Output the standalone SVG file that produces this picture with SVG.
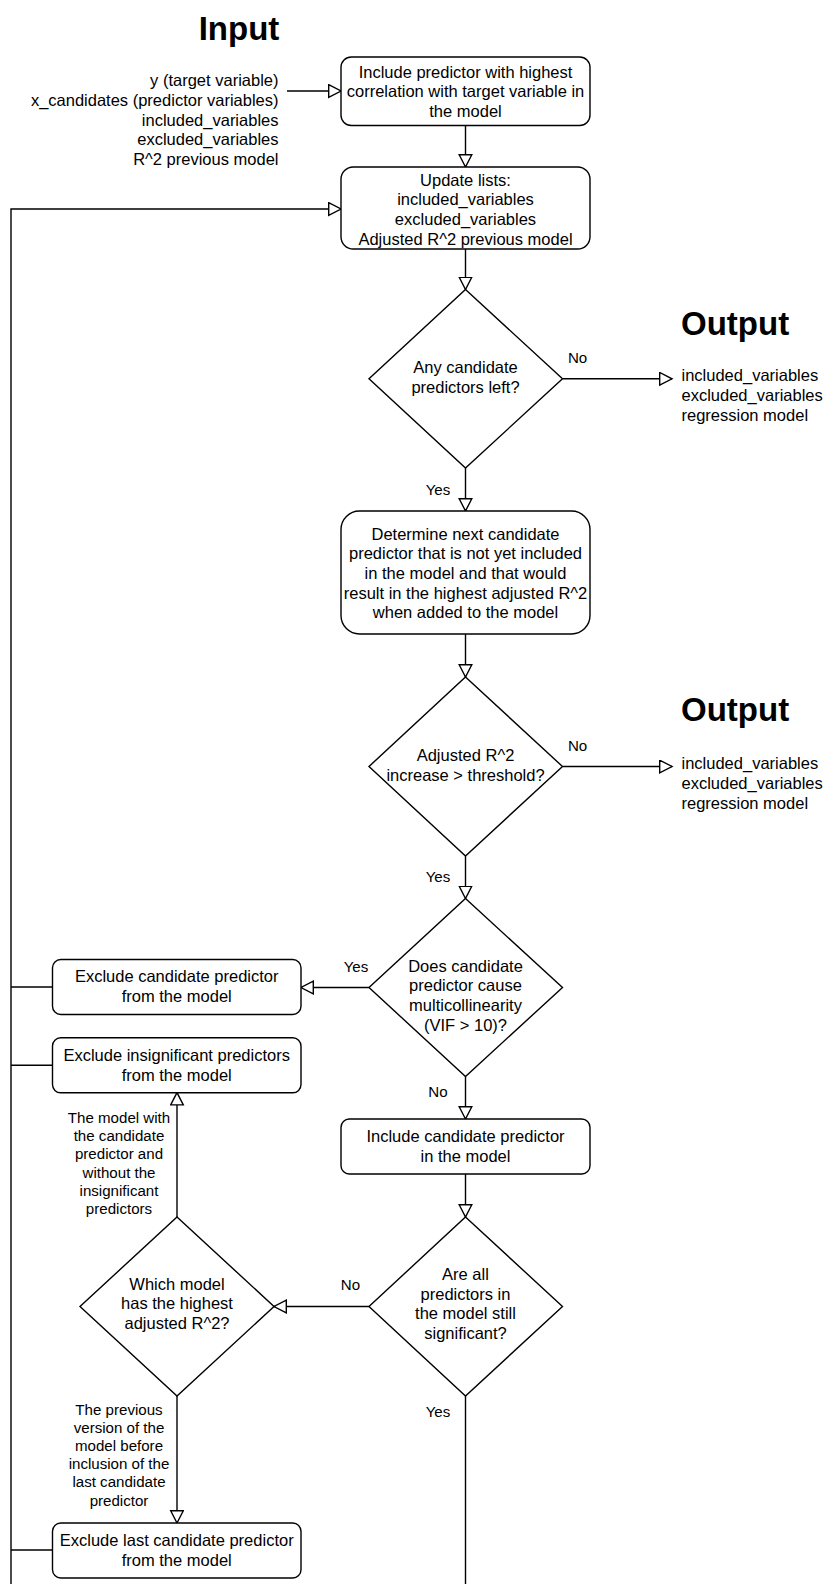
<svg xmlns="http://www.w3.org/2000/svg" width="825" height="1584" viewBox="0 0 825 1584">
  <defs>
    <marker id="open-arrow" markerUnits="userSpaceOnUse" markerWidth="16" markerHeight="16" refX="13" refY="7" orient="auto">
      <path d="M0.7,0.7 L13,7 L0.7,13.3 Z" fill="#ffffff" stroke="#000000" stroke-width="1.4"/>
    </marker>
    <style>
      .box { fill: #ffffff; stroke: #000000; stroke-width: 1.4; }
      .edge { fill: none; stroke: #000000; stroke-width: 1.4; }
      .t { font-family: "Liberation Sans", Arial, sans-serif; font-size: 16.5px; fill: #000000; }
      .c { text-anchor: middle; }
      .r { text-anchor: end; }
      .lbl { font-family: "Liberation Sans", Arial, sans-serif; font-size: 15.1px; fill: #000000; text-anchor: middle; }
      .title { font-family: "Liberation Sans", Arial, sans-serif; font-size: 33px; font-weight: bold; fill: #000000; }
    </style>
  </defs>

  <rect width="825" height="1584" fill="#ffffff"/>

  <!-- connectors -->
  <g id="connectors">
    <path class="edge" d="M287,91 H341" marker-end="url(#open-arrow)"/>
    <path class="edge" d="M465.5,125.5 V167" marker-end="url(#open-arrow)"/>
    <path class="edge" d="M465.5,249 V289.5" marker-end="url(#open-arrow)"/>
    <path class="edge" d="M562.5,378.8 H672" marker-end="url(#open-arrow)"/>
    <path class="edge" d="M465.5,468 V511" marker-end="url(#open-arrow)"/>
    <path class="edge" d="M465.5,634 V677" marker-end="url(#open-arrow)"/>
    <path class="edge" d="M562.5,766.5 H672" marker-end="url(#open-arrow)"/>
    <path class="edge" d="M465.5,856 V898.5" marker-end="url(#open-arrow)"/>
    <path class="edge" d="M369,987.5 H301" marker-end="url(#open-arrow)"/>
    <path class="edge" d="M465.5,1076.5 V1119" marker-end="url(#open-arrow)"/>
    <path class="edge" d="M465.5,1174 V1217" marker-end="url(#open-arrow)"/>
    <path class="edge" d="M369,1306.5 H274" marker-end="url(#open-arrow)"/>
    <path class="edge" d="M465.5,1396 V1584"/>
    <path class="edge" d="M177,1217 V1092.6" marker-end="url(#open-arrow)"/>
    <path class="edge" d="M177,1396 V1523" marker-end="url(#open-arrow)"/>
    <!-- loop back to the list update -->
    <path class="edge" d="M11,1584 V209 H341" marker-end="url(#open-arrow)"/>
    <path class="edge" d="M52.5,987 H11"/>
    <path class="edge" d="M52.5,1065.3 H11"/>
    <path class="edge" d="M52.5,1550 H11"/>

    <text class="lbl" x="577.6" y="363">No</text>
    <text class="lbl" x="438" y="495">Yes</text>
    <text class="lbl" x="577.6" y="751">No</text>
    <text class="lbl" x="438" y="882">Yes</text>
    <text class="lbl" x="356" y="972">Yes</text>
    <text class="lbl" x="438" y="1097">No</text>
    <text class="lbl" x="350.5" y="1290">No</text>
    <text class="lbl" x="438" y="1417">Yes</text>

    <text class="lbl"><tspan x="119" y="1123">The model with</tspan><tspan x="119" y="1141.2">the candidate</tspan><tspan x="119" y="1159.4">predictor and</tspan><tspan x="119" y="1177.6">without the</tspan><tspan x="119" y="1195.8">insignificant</tspan><tspan x="119" y="1214">predictors</tspan></text>
    <text class="lbl"><tspan x="119" y="1414.5">The previous</tspan><tspan x="119" y="1432.7">version of the</tspan><tspan x="119" y="1450.9">model before</tspan><tspan x="119" y="1469.1">inclusion of the</tspan><tspan x="119" y="1487.3">last candidate</tspan><tspan x="119" y="1505.5">predictor</tspan></text>
  </g>

  <!-- input -->
  <g id="input">
    <text class="title" x="239" y="40" text-anchor="middle">Input</text>
    <text class="t r"><tspan x="278.5" y="86">y (target variable)</tspan><tspan x="278.5" y="105.8">x_candidates (predictor variables)</tspan><tspan x="278.5" y="125.6">included_variables</tspan><tspan x="278.5" y="145.4">excluded_variables</tspan><tspan x="278.5" y="165.2">R^2 previous model</tspan></text>
  </g>

  <g id="include-first">
    <rect class="box" x="341" y="57" width="249" height="68.5" rx="10.3"/>
    <text class="t c"><tspan x="465.5" y="77.5">Include predictor with highest</tspan><tspan x="465.5" y="97.3">correlation with target variable in</tspan><tspan x="465.5" y="117.1">the model</tspan></text>
  </g>

  <g id="update-lists">
    <rect class="box" x="341" y="167" width="249" height="82" rx="12.3"/>
    <text class="t c"><tspan x="465.5" y="185.5">Update lists:</tspan><tspan x="465.5" y="205.3">included_variables</tspan><tspan x="465.5" y="225.1">excluded_variables</tspan><tspan x="465.5" y="244.9">Adjusted R^2 previous model</tspan></text>
  </g>

  <g id="any-left">
    <path class="box" d="M465.5,289.5 L562.5,378.8 L465.5,468 L369,378.8 Z"/>
    <text class="t c"><tspan x="465.5" y="373.3">Any candidate</tspan><tspan x="465.5" y="393.1">predictors left?</tspan></text>
  </g>

  <g id="output-1">
    <text class="title" x="681" y="335">Output</text>
    <text class="t"><tspan x="681.5" y="381">included_variables</tspan><tspan x="681.5" y="400.8">excluded_variables</tspan><tspan x="681.5" y="420.6">regression model</tspan></text>
  </g>

  <g id="next-candidate">
    <rect class="box" x="341" y="511" width="249" height="123" rx="18.4"/>
    <text class="t c"><tspan x="465.5" y="539.5">Determine next candidate</tspan><tspan x="465.5" y="559.2">predictor that is not yet included</tspan><tspan x="465.5" y="578.9">in the model and that would</tspan><tspan x="465.5" y="598.6">result in the highest adjusted R^2</tspan><tspan x="465.5" y="618.3">when added to the model</tspan></text>
  </g>

  <g id="increase-threshold">
    <path class="box" d="M465.5,677 L562.5,766.5 L465.5,856 L369,766.5 Z"/>
    <text class="t c"><tspan x="465.5" y="760.7">Adjusted R^2</tspan><tspan x="465.5" y="780.5">increase &gt; threshold?</tspan></text>
  </g>

  <g id="output-2">
    <text class="title" x="681" y="721">Output</text>
    <text class="t"><tspan x="681.5" y="769">included_variables</tspan><tspan x="681.5" y="788.8">excluded_variables</tspan><tspan x="681.5" y="808.6">regression model</tspan></text>
  </g>

  <g id="multicollinearity">
    <path class="box" d="M465.5,898.5 L562.5,987.5 L465.5,1076.5 L369,987.5 Z"/>
    <text class="t c"><tspan x="465.5" y="971.5">Does candidate</tspan><tspan x="465.5" y="991.3">predictor cause</tspan><tspan x="465.5" y="1011.1">multicollinearity</tspan><tspan x="465.5" y="1030.9">(VIF &gt; 10)?</tspan></text>
  </g>

  <g id="exclude-candidate">
    <rect class="box" x="52.5" y="959.5" width="248.5" height="55" rx="8.2"/>
    <text class="t c"><tspan x="176.7" y="982.4">Exclude candidate predictor</tspan><tspan x="176.7" y="1002.2">from the model</tspan></text>
  </g>

  <g id="exclude-insignificant">
    <rect class="box" x="52.5" y="1037.8" width="248.5" height="55" rx="8.2"/>
    <text class="t c"><tspan x="176.7" y="1061.2">Exclude insignificant predictors</tspan><tspan x="176.7" y="1081">from the model</tspan></text>
  </g>

  <g id="include-candidate">
    <rect class="box" x="341" y="1119" width="249" height="55" rx="8.2"/>
    <text class="t c"><tspan x="465.5" y="1142.4">Include candidate predictor</tspan><tspan x="465.5" y="1162.2">in the model</tspan></text>
  </g>

  <g id="still-significant">
    <path class="box" d="M465.5,1217 L562.5,1306.5 L465.5,1396 L369,1306.5 Z"/>
    <text class="t c"><tspan x="465.5" y="1279.7">Are all</tspan><tspan x="465.5" y="1299.5">predictors in</tspan><tspan x="465.5" y="1319.3">the model still</tspan><tspan x="465.5" y="1339.1">significant?</tspan></text>
  </g>

  <g id="which-model">
    <path class="box" d="M177,1217 L274,1306.5 L177,1396 L80,1306.5 Z"/>
    <text class="t c"><tspan x="177" y="1289.5">Which model</tspan><tspan x="177" y="1309.3">has the highest</tspan><tspan x="177" y="1329.1">adjusted R^2?</tspan></text>
  </g>

  <g id="exclude-last">
    <rect class="box" x="52.5" y="1523" width="248.5" height="55" rx="8.2"/>
    <text class="t c"><tspan x="176.7" y="1546">Exclude last candidate predictor</tspan><tspan x="176.7" y="1565.8">from the model</tspan></text>
  </g>
</svg>
